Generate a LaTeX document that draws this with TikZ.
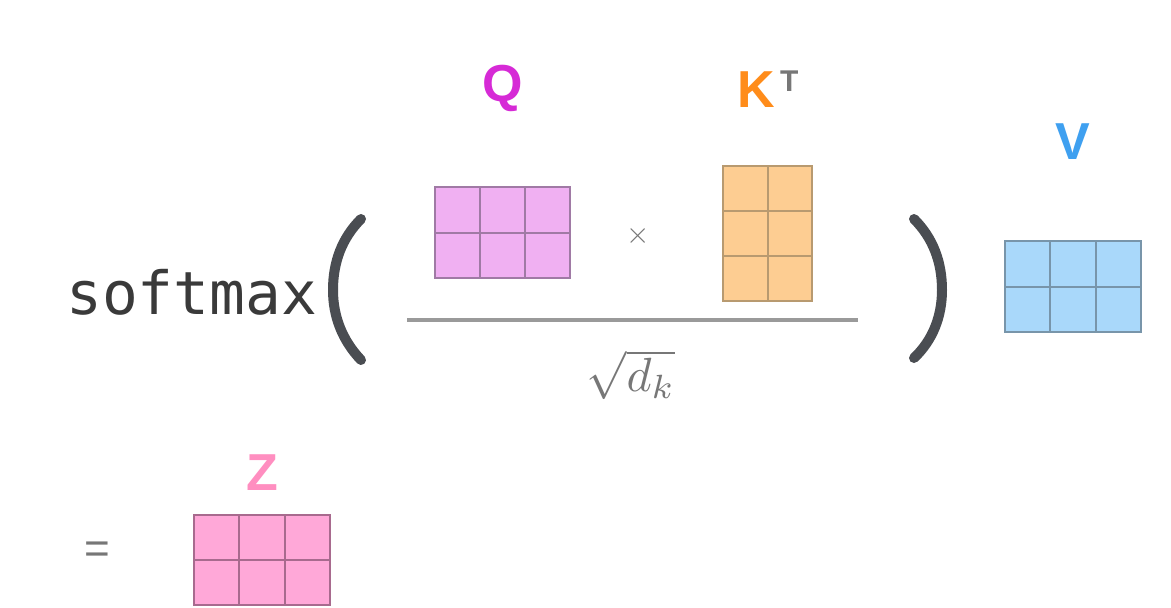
\documentclass[tikz,border=0pt]{standalone}
\usepackage{fontspec}
\usepackage{graphicx}
\setmainfont{Liberation Sans}
\newfontfamily\monof{DejaVu Sans Mono}
\usetikzlibrary{calc}
\definecolor{qfill}{HTML}{F0B0F2}
\definecolor{qline}{HTML}{A07AA5}
\definecolor{kfill}{HTML}{FDCD92}
\definecolor{kline}{HTML}{B89A70}
\definecolor{vfill}{HTML}{A9D8FA}
\definecolor{vline}{HTML}{7895AA}
\definecolor{zfill}{HTML}{FFA8D8}
\definecolor{zline}{HTML}{A86A8E}
\definecolor{qlab}{HTML}{D62AD6}
\definecolor{klab}{HTML}{FF8C1A}
\definecolor{vlab}{HTML}{3FA0F0}
\definecolor{zlab}{HTML}{FF8EC0}
\definecolor{greytext}{HTML}{777777}
\definecolor{darktext}{HTML}{3A3A3A}
\definecolor{parcol}{HTML}{4A4D52}
\definecolor{barcol}{HTML}{9A9A9A}
\newcommand\vlines[3]{\foreach \f in {#2}{\draw[#3, line width=2pt] ($(#1.north west)!\f!(#1.north east)$) -- ($(#1.south west)!\f!(#1.south east)$);}}
\newcommand\hlines[3]{\foreach \f in {#2}{\draw[#3, line width=2pt] ($(#1.north west)!\f!(#1.south west)$) -- ($(#1.north east)!\f!(#1.south east)$);}}
\begin{document}
\begin{tikzpicture}[x=1pt,y=-1pt,
  matbox/.style={draw, line width=2pt, inner sep=0pt, anchor=north west},
  lab/.style={font=\fontsize{52}{52}\selectfont\bfseries, inner sep=0pt},
  paren/.style={draw=parcol, line width=10pt, line cap=round}]
\useasboundingbox[fill=white] (0,0) rectangle (1171,608);

% softmax
\node[anchor=base west, inner sep=0pt, text=darktext, font=\monof\fontsize{59.5}{60}\selectfont] (sm) at (66,314) {softmax};

% left parenthesis
\draw[paren] (361,219) .. controls (342,238) and (333,262) .. (333,290)
  .. controls (333,316) and (342,340) .. (361,360);
% right parenthesis
\draw[paren] (914,219) .. controls (933,238) and (942,262) .. (942,290)
  .. controls (942,316) and (933,340) .. (914,358);

% Q matrix
\node[matbox, fill=qfill, draw=qline, minimum width=135pt, minimum height=91pt] (Q) at (434,186) {};
\vlines{Q}{0.3333,0.6667}{qline}
\hlines{Q}{0.5}{qline}
\node[lab, text=qlab] (Qlab) at (503,88) {Q};

% times
\node[text=greytext, inner sep=0pt] (times) at (638,236) {\scalebox{3}{$\times$}};

% K^T matrix
\node[matbox, fill=kfill, draw=kline, minimum width=89pt, minimum height=135pt] (K) at (722,165) {};
\vlines{K}{0.5}{kline}
\hlines{K}{0.3333,0.6667}{kline}
\node[lab, text=klab, anchor=base west] (Klab) at (737,107) {K};
\node[text=greytext, font=\fontsize{30}{30}\selectfont\bfseries, inner sep=0pt, anchor=base west] (Tlab) at (780,91) {T};

% fraction bar
\coordinate (fl) at (407,320);
\coordinate (fr) at (858,320);
\draw[barcol, line width=3.5pt] (fl) -- (fr);

% sqrt d_k
\node[text=greytext, inner sep=0pt] (dk) at (631,375) {\scalebox{4.8}{$\sqrt{d_k}$}};

% V matrix
\node[matbox, fill=vfill, draw=vline, minimum width=136pt, minimum height=91pt] (V) at (1004,240) {};
\vlines{V}{0.3333,0.6667}{vline}
\hlines{V}{0.5}{vline}
\node[lab, text=vlab] (Vlab) at (1073,142) {V};

% equals
\node[text=greytext, font=\fontsize{44}{44}\selectfont, inner sep=0pt] (eq) at (97,553) {=};

% Z matrix
\node[matbox, fill=zfill, draw=zline, minimum width=136pt, minimum height=90pt] (Z) at (193,514) {};
\vlines{Z}{0.3333,0.6667}{zline}
\hlines{Z}{0.5}{zline}
\node[lab, text=zlab] (Zlab) at (262,473) {Z};
\end{tikzpicture}
\end{document}
